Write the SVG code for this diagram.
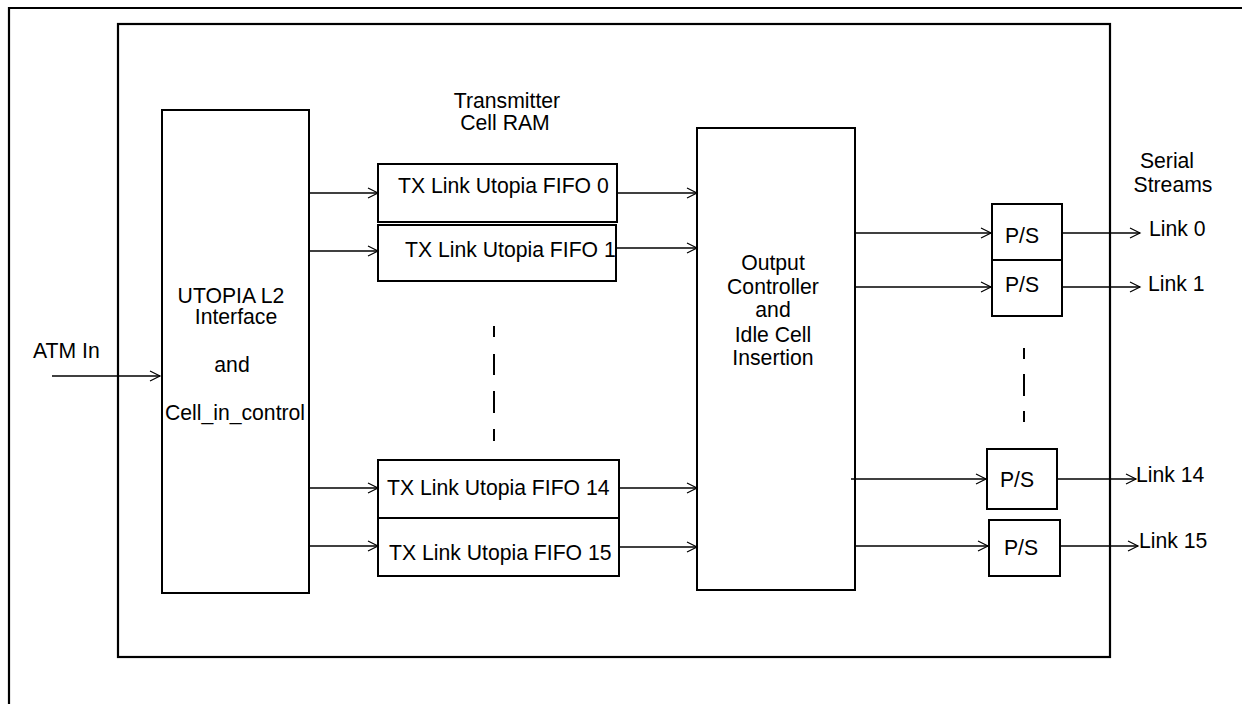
<svg xmlns="http://www.w3.org/2000/svg" width="1242" height="704" viewBox="0 0 1242 704">
<style>
.box{fill:none;stroke:#000;stroke-width:2}
.frame{fill:none;stroke:#000;stroke-width:2.2}
.ln{fill:none;stroke:#000;stroke-width:1.6;marker-end:url(#ah)}
.dash{fill:none;stroke:#000;stroke-width:2}
text{font-family:"Liberation Sans",Arial,sans-serif;font-size:21.2px;fill:#000}
.m{text-anchor:middle}
</style>
<defs>
<marker id="ah" markerUnits="userSpaceOnUse" markerWidth="14" markerHeight="14" refX="11" refY="6" orient="auto">
<path d="M1,1 L11,6 L1,11" fill="none" stroke="#000" stroke-width="1.2"/>
</marker>
</defs>
<rect width="1242" height="704" fill="#fff"/>
<g id="outer-frame"><path class="frame" d="M9,704 V8 H1242"/></g>
<g id="chip-frame"><rect class="frame" x="118" y="24" width="992" height="633"/></g>

<g id="utopia">
<rect class="box" x="162" y="110" width="147" height="483"/>
<text class="m" x="231" y="303">UTOPIA L2</text>
<text class="m" x="236" y="324">Interface</text>
<text class="m" x="232" y="372">and</text>
<text class="m" x="235" y="420">Cell_in_control</text>
</g>
<g id="atm-in"><text x="33" y="358">ATM In</text></g>
<g id="tx-ram-label">
<text class="m" x="507" y="108">Transmitter</text>
<text class="m" x="505" y="130">Cell RAM</text>
</g>
<g id="fifo0"><rect class="box" x="378" y="164" width="239" height="58"/><text x="398" y="193">TX Link Utopia FIFO 0</text></g>
<g id="fifo1"><rect class="box" x="378" y="225" width="238" height="56"/><text x="405" y="257">TX Link Utopia FIFO 1</text></g>
<g id="fifo14"><rect class="box" x="378" y="460" width="241" height="58"/><text x="387" y="495">TX Link Utopia FIFO 14</text></g>
<g id="fifo15"><rect class="box" x="378" y="518" width="241" height="58"/><text x="389" y="560">TX Link Utopia FIFO 15</text></g>
<g id="output-controller">
<rect class="box" x="697" y="128" width="158" height="462"/>
<text class="m" x="773" y="270">Output</text>
<text class="m" x="773" y="294">Controller</text>
<text class="m" x="773" y="317">and</text>
<text class="m" x="773" y="342">Idle Cell</text>
<text class="m" x="773" y="365">Insertion</text>
</g>
<g id="serial-label">
<text class="m" x="1167" y="168">Serial</text>
<text class="m" x="1173" y="192">Streams</text>
</g>
<g id="ps0"><rect class="box" x="992" y="204" width="70" height="56"/><text class="m" x="1022" y="243">P/S</text></g>
<g id="ps1"><rect class="box" x="992" y="260" width="70" height="56"/><text class="m" x="1022" y="292">P/S</text></g>
<g id="ps14"><rect class="box" x="987" y="449" width="70" height="60"/><text class="m" x="1017" y="487">P/S</text></g>
<g id="ps15"><rect class="box" x="989" y="520" width="71" height="56"/><text class="m" x="1021" y="555">P/S</text></g>
<g id="link-labels">
<text x="1149" y="236">Link 0</text>
<text x="1148" y="291">Link 1</text>
<text x="1136" y="482">Link 14</text>
<text x="1139" y="548">Link 15</text>
</g>

<g id="connectors">
<line class="ln" x1="52" y1="376" x2="160" y2="376"/>
<line class="ln" x1="309" y1="193" x2="378" y2="193"/>
<line class="ln" x1="309" y1="251" x2="378" y2="251"/>
<line class="ln" x1="309" y1="488" x2="378" y2="488"/>
<line class="ln" x1="309" y1="546" x2="378" y2="546"/>
<line class="ln" x1="617" y1="193" x2="697" y2="193"/>
<line class="ln" x1="616" y1="248" x2="697" y2="248"/>
<line class="ln" x1="619" y1="488" x2="697" y2="488"/>
<line class="ln" x1="619" y1="547" x2="697" y2="547"/>
<line class="ln" x1="855" y1="233" x2="991" y2="233"/>
<line class="ln" x1="855" y1="287" x2="991" y2="287"/>
<line class="ln" x1="851" y1="479" x2="986" y2="479"/>
<line class="ln" x1="855" y1="546" x2="988" y2="546"/>
<line class="ln" x1="1062" y1="233" x2="1140" y2="233"/>
<line class="ln" x1="1062" y1="287" x2="1140" y2="287"/>
<line class="ln" x1="1057" y1="479" x2="1136" y2="479"/>
<line class="ln" x1="1060" y1="546" x2="1138" y2="546"/>
<path class="dash" d="M494,326 V337 M494,354 V375 M494,391 V413 M494,429 V441"/>
<path class="dash" d="M1024,348 V359 M1024,374 V396 M1024,411 V422"/>
</g>
</svg>
